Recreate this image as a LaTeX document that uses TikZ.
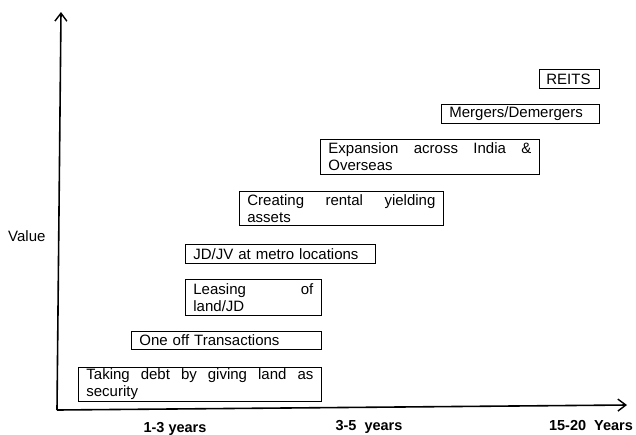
\documentclass[tikz,border=0pt]{standalone}
\usepackage{fontspec}
\setmainfont{Liberation Sans}
\usetikzlibrary{arrows.meta}
\begin{document}
\begin{tikzpicture}[x=1pt,y=-1pt,
  stagebox/.style={draw=black,line width=0.8pt,anchor=north west,inner xsep=8pt,inner ysep=0pt,
    align=left,font=\fontsize{15}{17}\selectfont},
  axis/.style={line width=1.6pt,-{Straight Barb[length=8pt,width=12pt,line width=1.4pt]}},
  axlabel/.style={font=\bfseries\fontsize{14.5}{17}\selectfont,anchor=base},
  vlabel/.style={font=\fontsize{15}{17}\selectfont,anchor=base west,inner sep=0pt}]
\useasboundingbox (0,0) rectangle (636,434);
\coordinate (O) at (57,410);
\coordinate (ytop) at (61,12);
\coordinate (xend) at (627,405);
\draw[axis] (O) -- (ytop);
\draw[axis] (O) -- (xend);

\node[stagebox,minimum width=243pt,minimum height=34pt,text width=227pt] (debt) at (78,367)
  {Taking\hfill debt\hfill by\hfill giving\hfill land\hfill as\\security};
\node[stagebox,minimum width=190pt,minimum height=18pt,text width=174pt] (oneoff) at (131,331)
  {One off Transactions};
\node[stagebox,minimum width=136pt,minimum height=36pt,text width=120pt] (leasing) at (185,279)
  {Leasing\hfill of\\land/JD};
\node[stagebox,minimum width=190pt,minimum height=19pt,text width=174pt] (jdjv) at (185,244)
  {JD/JV at metro locations};
\node[stagebox,minimum width=204pt,minimum height=34pt,text width=188pt] (rental) at (239,191)
  {Creating\hfill rental\hfill yielding\\assets};
\node[stagebox,minimum width=219pt,minimum height=35pt,text width=203pt] (expansion) at (320,139)
  {Expansion\hfill across\hfill India\hfill \&\\Overseas};
\node[stagebox,minimum width=158pt,minimum height=19pt,text width=142pt] (mergers) at (441,104)
  {Mergers/Demergers};
\node[stagebox,inner xsep=7pt,minimum width=60pt,minimum height=19pt,text width=46pt] (reits) at (539,69)
  {REITS};

\node[vlabel] (value) at (8,241) {Value};
\node[axlabel] (t1) at (175,432) {1-3 years};
\node[axlabel] (t2) at (369,430) {3-5\ \ years};
\node[axlabel] (t3) at (591,430) {15-20\ \ Years};
\end{tikzpicture}
\end{document}
